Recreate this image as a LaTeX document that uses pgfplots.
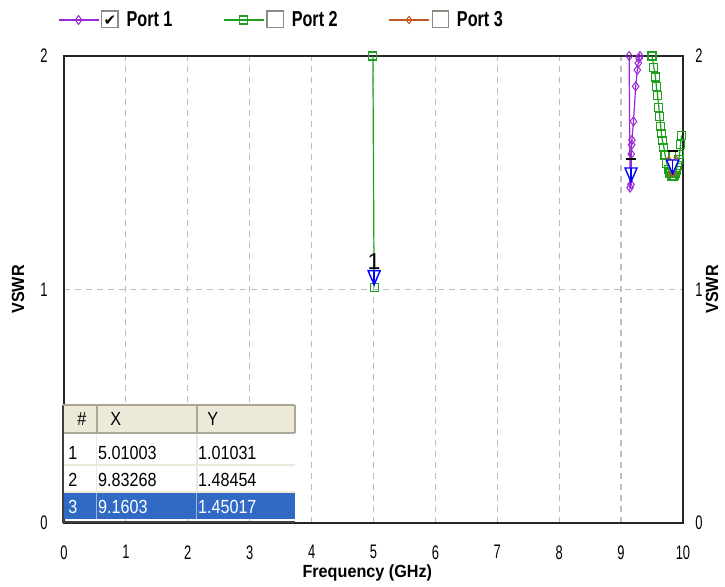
\documentclass[border=0pt]{standalone}
\usepackage{fontspec}
\setmainfont{Liberation Sans}
\newfontfamily\legfont[FakeStretch=0.75]{Liberation Sans}
\newfontfamily\tickfont[FakeStretch=0.66]{Liberation Sans}
\newfontfamily\tabfont[FakeStretch=0.85]{Liberation Sans}
\newfontfamily\labfont[FakeStretch=0.92]{Liberation Sans}
\newfontfamily\dejavu{DejaVu Sans}
\usepackage{pgfplots}
\pgfplotsset{compat=1.18}

\definecolor{pone}{RGB}{155,40,215}
\definecolor{ptwo}{RGB}{30,160,30}
\definecolor{pthree}{RGB}{195,85,35}
\definecolor{gridc}{RGB}{190,190,190}
\definecolor{hdr}{RGB}{236,233,216}
\definecolor{hdrdark}{RGB}{172,168,153}
\definecolor{selblue}{RGB}{49,106,197}
\definecolor{cbborder}{RGB}{140,140,130}

\pgfdeclareplotmark{mk}{%
  \pgfpathmoveto{\pgfqpoint{0pt}{1.2pt}}%
  \pgfpathlineto{\pgfqpoint{3pt}{8.2pt}}%
  \pgfpathlineto{\pgfqpoint{-3pt}{8.2pt}}%
  \pgfpathclose
  \pgfusepathqfillstroke
  \pgfpathmoveto{\pgfqpoint{0pt}{1.2pt}}%
  \pgfpathlineto{\pgfqpoint{0pt}{8.2pt}}%
  \pgfusepathqstroke
}
\newcommand{\dsh}{\rule[3.5pt]{5pt}{0.8pt}}
\DeclareRobustCommand{\cboxon}{{\setlength{\fboxsep}{0pt}\setlength{\fboxrule}{0.6pt}\fcolorbox{cbborder}{white}{\makebox[7.5pt]{\rule{0pt}{7.5pt}\raisebox{0.5pt}{\dejavu\fontsize{7.5}{7.5}\selectfont ✔}}}}}
\DeclareRobustCommand{\cboxoff}{{\setlength{\fboxsep}{0pt}\setlength{\fboxrule}{0.6pt}\fcolorbox{cbborder}{white}{\makebox[7.5pt]{\rule{0pt}{7.5pt}}}}}
\DeclareRobustCommand{\legtext}[2]{\makebox[62pt][l]{\hspace{1pt}#1\hspace{4pt}#2}}

\begin{document}
\begin{tikzpicture}
\begin{axis}[
  scale only axis, width=309.5pt, height=233.5pt,
  xmin=0, xmax=10, ymin=0, ymax=2,
  xtick={0,1,...,10}, ytick={0,1,2},
  clip=false,
  axis line style={line width=1pt, black!85},
  grid=major,
  major grid style={gridc, dash pattern=on 3pt off 2.5pt, line width=0.6pt},
  major tick length=0pt,
  /pgf/number format/assume math mode=true,
  ticklabel style={font=\tickfont\fontsize{9.8}{10}\selectfont, inner sep=0pt},
  xticklabel style={anchor=north, yshift=-11pt},
  yticklabel style={anchor=east, xshift=-8pt},
  xlabel={\bfseries Frequency (GHz)},
  ylabel={\bfseries VSWR},
  label style={font=\labfont\fontsize{8.8}{10}\selectfont},
  xlabel style={at={(axis description cs:0.49,-0.107)}, anchor=center},
  ylabel style={at={(axis description cs:-0.0743,0.5)}, anchor=center},
  legend style={at={(axis description cs:0,1)}, anchor=west, xshift=-3pt, yshift=18pt,
    draw=none, fill=none, inner sep=0pt, outer sep=0pt,
    column sep=0pt, row sep=0pt, nodes={inner sep=0pt, anchor=west},
    font=\legfont\bfseries\fontsize{10.8}{12}\selectfont},
  legend columns=3,
  legend cell align=left,
  legend image code/.code={\draw[mark repeat=2, mark phase=2, #1] plot coordinates {(0pt,0pt) (10pt,0pt) (20pt,0pt)};},
]
% Port 1
\addplot[pone, line width=0.6pt, mark=diamond, mark size=2.2pt, mark options={solid, line width=0.5pt}] coordinates {
(9.13,2.000) (9.145,1.436) (9.160,1.450) (9.165,1.58) (9.170,1.62) (9.175,1.64) (9.200,1.72)
(9.236,1.87) (9.262,1.94) (9.278,1.97) (9.290,1.99) (9.305,2.000)
};
\addlegendentry{\legtext{\cboxon}{Port 1}}
% Port 2
\addplot[ptwo, line width=0.6pt, mark=square, mark size=2pt, mark options={solid, line width=0.55pt}] coordinates {
(4.99,2.000) (5.01003,1.01031)
};
\addlegendentry{\legtext{\cboxoff}{Port 2}}
\addplot[ptwo, line width=0.6pt, mark=square, mark size=2pt, mark options={solid, line width=0.55pt}, forget plot] coordinates {
(9.50,2.000) (9.53,1.95) (9.555,1.91) (9.57,1.87) (9.59,1.83) (9.61,1.78) (9.625,1.74)
(9.64,1.70) (9.65,1.67) (9.665,1.64) (9.69,1.61) (9.71,1.576) (9.74,1.54) (9.76,1.515)
(9.78,1.50) (9.79,1.495) (9.81,1.488) (9.82,1.486) (9.83268,1.48454) (9.845,1.485)
(9.86,1.49) (9.875,1.497) (9.89,1.51) (9.91,1.53) (9.93,1.555) (9.945,1.58) (9.96,1.62) (9.975,1.66)
};
% Port 3
\addplot[pthree, line width=0.6pt, mark=diamond, mark size=1.8pt, mark options={solid, line width=0.5pt}] coordinates {
(9.77,1.555) (9.81,1.50) (9.855,1.50) (9.89,1.555)
};
\addlegendentry{\legtext{\cboxoff}{Port 3}}
% markers
\addplot[only marks, mark=mk, mark options={draw=blue, fill=white, line width=0.7pt}, forget plot,
  nodes near coords, point meta=explicit symbolic,
  nodes near coords style={anchor=south, inner sep=0pt, yshift=8.5pt, text=black, font=\fontsize{11.5}{12}\selectfont}]
  table[meta=lab] {
x y lab
5.01003 1.01031 1
9.83268 1.48454 \dsh
9.1603 1.45017 \dsh
};
% marker table
\fill[white] (axis cs:-0.016,0.017) rectangle (axis cs:3.73,0.505);
\fill[hdr] (axis cs:-0.016,0.385) rectangle (axis cs:3.73,0.505);
\fill[selblue] (axis cs:-0.016,0.017) rectangle (axis cs:3.73,0.127);
\draw[hdr, line width=0.8pt] (axis cs:-0.016,0.248) -- (axis cs:3.73,0.248);
\draw[hdr, line width=0.8pt] (axis cs:-0.016,0.134) -- (axis cs:3.73,0.134);
\draw[hdr, line width=0.8pt] (axis cs:0.528,0.127) -- (axis cs:0.528,0.385);
\draw[hdr, line width=0.8pt] (axis cs:2.144,0.127) -- (axis cs:2.144,0.385);
\draw[hdr!60!selblue, line width=0.6pt] (axis cs:0.528,0.017) -- (axis cs:0.528,0.127);
\draw[hdr!60!selblue, line width=0.6pt] (axis cs:2.144,0.017) -- (axis cs:2.144,0.127);
\draw[hdrdark, line width=0.9pt] (axis cs:-0.016,0.385) -- (axis cs:3.73,0.385);
\draw[hdrdark, line width=0.9pt] (axis cs:0.528,0.385) -- (axis cs:0.528,0.505);
\draw[hdrdark, line width=0.9pt] (axis cs:2.144,0.385) -- (axis cs:2.144,0.505);
\draw[hdrdark, line width=0.9pt] (axis cs:3.73,0.385) -- (axis cs:3.73,0.505);
\draw[black!75, line width=1.1pt] (axis cs:-0.016,0.505) -- (axis cs:-0.016,0.006) -- (axis cs:3.73,0.006);
\draw[hdrdark, line width=0.6pt] (axis cs:-0.016,0.505) -- (axis cs:3.73,0.505);
\begin{scope}[every node/.style={anchor=west, inner sep=0pt, font=\tabfont\fontsize{9.5}{10}\selectfont}]
\node[anchor=center] at (axis cs:0.29,0.445) {\#};
\node at (axis cs:0.743,0.445) {X};
\node at (axis cs:2.31,0.445) {Y};
\node at (axis cs:0.065,0.300) {1};
\node at (axis cs:0.545,0.300) {5.01003};
\node at (axis cs:2.16,0.300) {1.01031};
\node at (axis cs:0.065,0.184) {2};
\node at (axis cs:0.545,0.184) {9.83268};
\node at (axis cs:2.16,0.184) {1.48454};
\node[text=white] at (axis cs:0.065,0.0685) {3};
\node[text=white] at (axis cs:0.545,0.0685) {9.1603};
\node[text=white] at (axis cs:2.16,0.0685) {1.45017};
\end{scope}
% right axis labels
\begin{scope}[every node/.style={anchor=west, inner sep=0pt, font=\tickfont\fontsize{9.8}{10}\selectfont}]
\node at ([xshift=6pt]axis cs:10,0) {0};
\node at ([xshift=6pt]axis cs:10,1) {1};
\node at ([xshift=6pt]axis cs:10,2) {2};
\end{scope}
\node[rotate=90, anchor=center, inner sep=0pt, font=\labfont\fontsize{8.8}{10}\selectfont\bfseries] at (axis description cs:1.047,0.5) {VSWR};
\end{axis}
\pgfresetboundingbox
\useasboundingbox (-32pt,-31.5pt) rectangle (330.5pt,261.5pt);
\end{tikzpicture}
\end{document}
